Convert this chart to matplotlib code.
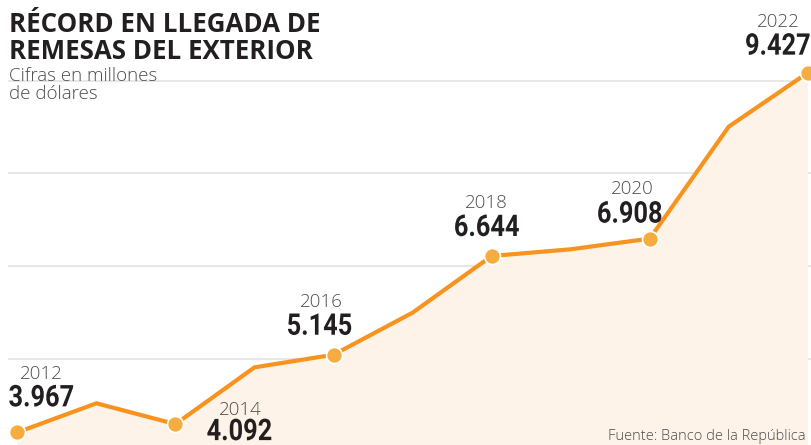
import matplotlib
matplotlib.use('Agg')
import matplotlib.pyplot as plt
from matplotlib.patheffects import AbstractPathEffect
from matplotlib.transforms import Affine2D

# Remesas, cifras en millones de dolares
years = [2012, 2013, 2014, 2015, 2016, 2017, 2018, 2019, 2020, 2021, 2022]
values = [3.967, 4.408, 4.092, 4.954, 5.145, 5.784, 6.644, 6.746, 6.908, 8.608, 9.427]
labeled_years = [2012, 2014, 2016, 2018, 2020, 2022]
value_labels = ['3.967', '4.092', '5.145', '6.644', '6.908', '9.427']
grid_levels = [5.08, 6.49, 7.90, 9.30]

title = 'RÉCORD EN LLEGADA DE\nREMESAS DEL EXTERIOR'
subtitle = 'Cifras en millones\nde dólares'
source = 'Fuente: Banco de la República'

# offsets (px) of year label and value label from each point
year_off = [(24, 58), (65, 14), (-12, 53), (-5, 53), (-17, 50), (-29, 51)]
val_off = [(24, 34), (64, -8), (-14, 28), (-5, 28), (-20, 24), (-30, 26)]


class Squeeze(AbstractPathEffect):
    """Narrow the glyphs horizontally around their centre (condensed look)."""

    def __init__(self, sx):
        super().__init__()
        self.sx = sx

    def draw_path(self, renderer, gc, tpath, affine, rgbFace=None):
        bb = tpath.get_extents(affine)
        cx = 0.5 * (bb.x0 + bb.x1)
        tr = affine + Affine2D().translate(-cx, 0).scale(self.sx, 1).translate(cx, 0)
        renderer.draw_path(gc, tpath, tr, rgbFace)


LINE = '#F7931E'
DOT = '#F6AD3F'
FILL = '#FDF3E8'
DARK = '#231F20'
GREY = '#4D4D4D'

fig = plt.figure(figsize=(8.11, 4.45), dpi=100)
ax = fig.add_axes([0, 0, 1, 1])
ax.set_xlim(2011.78, 2022.04)
ax.set_ylim(3.775, 10.53)
ax.axis('off')

for g in grid_levels:
    ax.axhline(g, xmin=9 / 811, xmax=1, color='#E3E3E3', lw=1.2, zorder=1)

ax.fill_between(years, values, 0, color=FILL, lw=0, zorder=2)
ax.plot(years, values, color=LINE, lw=3, solid_joinstyle='miter', zorder=3)

pts = [values[years.index(y)] for y in labeled_years]
ax.plot(labeled_years, pts, 'o', ms=11.5, mfc=DOT, mec='white', mew=1.2, zorder=4)

px = 0.72  # px -> points at 100 dpi
for i, y in enumerate(labeled_years):
    v = pts[i]
    ax.annotate(str(y), (y, v), xytext=(year_off[i][0] * px, year_off[i][1] * px),
                textcoords='offset points', ha='center', va='center',
                fontsize=13.5, color=GREY, family='Open Sans', fontweight='light',
                zorder=5)
    ax.annotate(value_labels[i], (y, v), xytext=(val_off[i][0] * px, val_off[i][1] * px),
                textcoords='offset points', ha='center', va='center',
                fontsize=21.5, color=DARK, family='Roboto', fontweight='bold',
                path_effects=[Squeeze(0.85)], zorder=5)

fig.text(9 / 811, 1 - 11 / 445, title, ha='left', va='top', fontsize=18.6,
         fontweight='bold', family='Open Sans', color=DARK, linespacing=1.0)
fig.text(9 / 811, 1 - 67 / 445, subtitle, ha='left', va='top', fontsize=13.5,
         fontweight='light', family='Open Sans', color=GREY, linespacing=1.0)
fig.text(806 / 811, 1 / 445, source, ha='right', va='bottom', fontsize=10.5,
         fontweight='light', family='Open Sans', color=GREY)

fig.savefig('out.png', dpi=100)
